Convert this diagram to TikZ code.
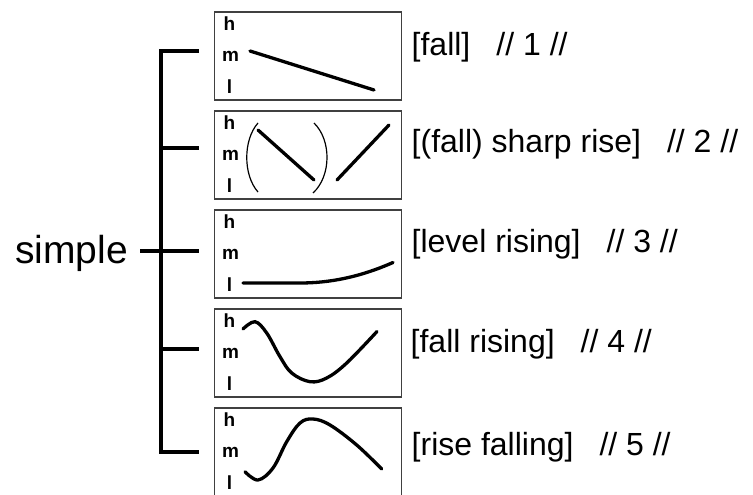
\documentclass[tikz,border=0pt]{standalone}
\usepackage{fontspec}
\setmainfont{Liberation Sans}
\usetikzlibrary{positioning}

\begin{document}
\begin{tikzpicture}[
  x=1pt, y=-1pt,
  node distance=11pt,
  box/.style={draw=black!75, line width=1.2pt, minimum width=187pt, minimum height=88pt, inner sep=0pt, outer sep=0pt},
  lvl/.style={inner sep=0pt, font=\fontsize{19}{20}\selectfont\bfseries},
  lbl/.style={inner sep=0pt, anchor=base west, font=\fontsize{32}{34}\selectfont},
  brk/.style={line width=4pt},
  contour/.style={line width=3.3pt, line cap=round},
  paren/.style={line width=1.2pt}
]
\clip (0,0) rectangle (753,495);
\node[box] (b1) at (308,56) {};
\node[box] (b2) [below=of b1] {};
\node[box] (b3) [below=of b2] {};
\node[box] (b4) [below=of b3] {};
\node[box] (b5) [below=of b4] {};
\foreach \b in {b1,b2,b3,b4,b5} {
  \node[lvl] (\b-h) at ([xshift=15pt,yshift=-12pt]\b.north west) {h};
  \node[lvl] (\b-m) at ([xshift=16pt,yshift=-44pt]\b.north west) {m};
  \node[lvl] (\b-l) at ([xshift=15pt,yshift=-75pt]\b.north west) {l};
}
% labels
\node[lbl] (l1) at ([xshift=10pt]b1.east) {[fall]\hspace{26pt}// 1 //};
\node[lbl] (l2) at ([xshift=10pt,yshift=2pt]b2.east) {[(fall) sharp rise]\hspace{26pt}// 2 //};
\node[lbl] (l3) at ([xshift=10pt,yshift=2pt]b3.east) {[level rising]\hspace{26pt}// 3 //};
\node[lbl] (l4) at ([xshift=9pt,yshift=1pt]b4.east) {[fall rising]\hspace{26pt}// 4 //};
\node[lbl] (l5) at ([xshift=10pt,yshift=-3pt]b5.east) {[rise falling]\hspace{26pt}// 5 //};
% bracket
\node[inner sep=0pt, anchor=base east, font=\fontsize{39}{40}\selectfont] (simple) at (128,263) {simple};
\coordinate (s1) at (161,51);
\coordinate (s5) at (161,452);
\coordinate (t1) at (199,51);
\coordinate (t2) at (199,148);
\coordinate (t3) at (199,251);
\coordinate (t4) at (199,349);
\coordinate (t5) at (199,452);
\draw[brk] (t1) -- (s1) -- (s5) -- (t5);
\foreach \i in {2,3,4} \draw[brk] (s1 |- t\i) -- (t\i);
\draw[brk] ([xshift=12pt]simple.east |- t3) -- (s1 |- t3);
% contours
\draw[contour] (250,51) -- (374,90);
\draw[paren] (258,123) .. controls (243,140) and (243,175) .. (258,192);
\draw[paren] (314,123) .. controls (331.5,140) and (331.5,176) .. (313,193);
\draw[contour] (258,130) -- (314,180);
\draw[contour] (337,180) -- (389,125);
\draw[contour] (243,283) -- (300,283) .. controls (330,283) and (360,277) .. (393,262.5);
\draw[contour] plot[smooth, tension=0.6] coordinates {(243,329) (255,321.7) (266.7,333) (280,356.7) (291.7,373) (310,381.7) (326.7,378) (346.7,363) (377,331.5)};
\draw[contour] plot[smooth, tension=0.6] coordinates {(245,471.7) (258,480) (273,468) (286.7,441.7) (300,423) (313,419) (330,425) (356.7,445) (381.7,469)};
\end{tikzpicture}
\end{document}
